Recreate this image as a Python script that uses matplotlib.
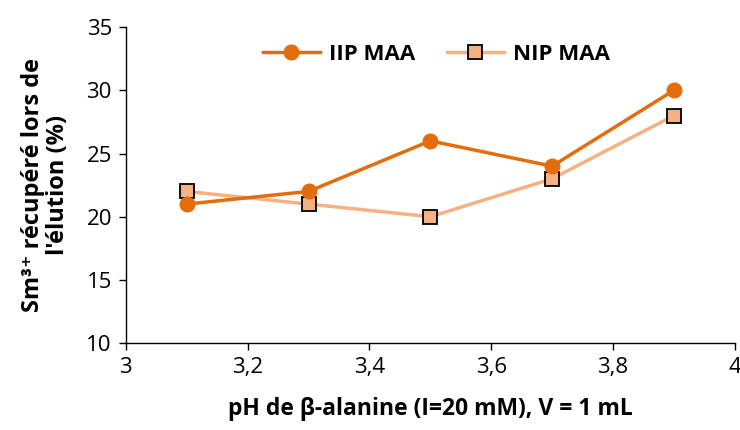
import matplotlib
matplotlib.use("Agg")
import matplotlib.pyplot as plt

plt.rcParams['font.family'] = ['Open Sans', 'DejaVu Sans']

# données
ph = [3.1, 3.3, 3.5, 3.7, 3.9]
iip_maa = [21, 22, 26, 24, 30]
nip_maa = [22, 21, 20, 23, 28]
xticks = [3, 3.2, 3.4, 3.6, 3.8, 4]
xtick_labels = ['3', '3,2', '3,4', '3,6', '3,8', '4']
yticks = [10, 15, 20, 25, 30, 35]

fig = plt.figure(figsize=(7.4, 4.3), dpi=100)
ax = fig.add_axes([0.170, 0.202, 0.823, 0.735])

ax.plot(ph, iip_maa, color='#E46C0A', lw=2.5, marker='o', ms=10.5,
        mfc='#E46C0A', mec='#E46C0A', label='IIP MAA', zorder=3)
ax.plot(ph, nip_maa, color='#F4B183', lw=2.5, marker='s', ms=10.5,
        mfc='#F4B183', mec='black', mew=1.3, label='NIP MAA', zorder=2)

ax.set_xlim(3, 4)
ax.set_ylim(10, 35)
ax.set_xticks(xticks)
ax.set_xticklabels(xtick_labels)
ax.set_yticks(yticks)
ax.tick_params(labelsize=16, direction='out', length=5, width=1, pad=5)

for s in ['top', 'right']:
    ax.spines[s].set_visible(False)
for s in ['left', 'bottom']:
    ax.spines[s].set_color('black')
    ax.spines[s].set_linewidth(1)

ax.set_xlabel('pH de β-alanine (I=20 mM), V = 1 mL', fontsize=16.5, weight='bold', labelpad=14)
ax.set_ylabel("Sm³⁺ récupéré lors de\nl'élution (%)", fontsize=17, weight='bold', labelpad=12,
              linespacing=1.05)

leg = ax.legend(loc='upper center', ncol=2, frameon=False,
                prop={'weight': 'bold', 'size': 16}, handlelength=2.6,
                handletextpad=0.4, columnspacing=1.4, bbox_to_anchor=(0.51, 1.01))

fig.savefig('out.png', dpi=100)
